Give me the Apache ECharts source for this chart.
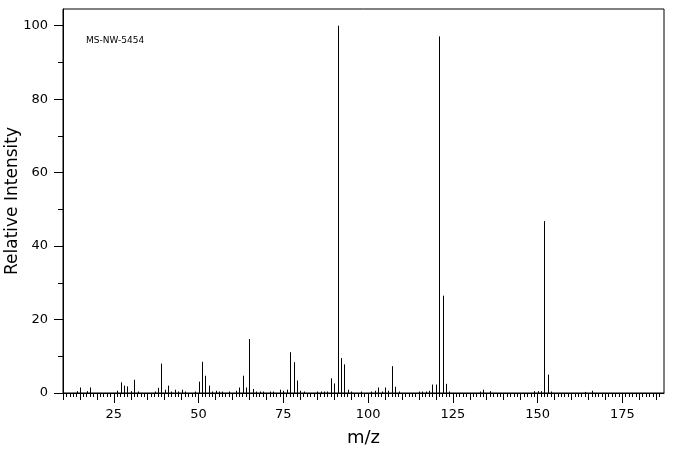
<!DOCTYPE html>
<html>
<head>
  <meta charset="utf-8">
  <title>MS-NW-5454</title>
  <style type="text/css">
    html, body { margin: 0; padding: 0; background: #fff; }
    #main { width: 676px; height: 455px; }
  </style>
</head>
<body>
<div id="main"></div>
<script type="text/javascript" src="https://cdn.jsdelivr.net/npm/echarts@6/dist/echarts.min.js"></script>
<script type="text/javascript">
  // peak positions (m/z) and relative intensities
  var mz = [14, 15, 17, 18, 26, 27, 28, 29, 30, 31, 32, 37, 38, 39, 40, 41, 42, 43, 44, 45,
            46, 49, 50, 51, 52, 53, 54, 55, 56, 57, 59, 61, 62, 63, 64, 65, 66, 67, 68, 69,
            71, 72, 74, 75, 76, 77, 78, 79, 80, 81, 85, 86, 87, 88, 89, 90, 91, 92, 93, 94,
            95, 98, 101, 102, 103, 104, 105, 106, 107, 108, 109, 115, 116, 117, 118, 119, 120, 121, 122, 123,
            124, 133, 134, 136, 149, 150, 151, 152, 153, 154, 164, 166];
  var intensity = [0.5, 1.5, 0.5, 1.5, 0.6, 2.9, 2.0, 1.8, 0.5, 3.6, 0.4, 0.4, 1.4, 8.0, 0.9, 2.0, 0.4, 0.9, 0.4, 0.9,
            0.4, 0.4, 3.1, 8.5, 4.7, 2.0, 0.4, 0.6, 0.4, 0.4, 0.4, 0.6, 1.5, 4.7, 1.5, 14.7, 1.1, 0.4, 0.4, 0.4,
            0.4, 0.4, 0.9, 0.6, 0.9, 11.1, 8.4, 3.4, 0.6, 0.4, 0.4, 0.4, 0.4, 0.4, 4.0, 2.6, 100, 9.5, 7.8, 0.9,
            0.4, 0.4, 0.4, 0.6, 1.5, 0.4, 1.5, 0.6, 7.3, 1.7, 0.4, 0.4, 0.4, 0.4, 0.6, 2.3, 2.3, 97.1, 26.5, 2.5,
            0.4, 0.4, 0.9, 0.5, 0.5, 0.5, 0.5, 46.8, 5.0, 0.4, 0.3, 0.6];

  var xMajor = [25, 50, 75, 100, 125, 150, 175];
  var yMajor = [0, 20, 40, 60, 80, 100];
  var yMinor = [10, 30, 50, 70, 90];

  var xMin = 10, xMax = 187.3, yMax = 104.55;

  var xUnit = [], xFive = [];
  for (var v = xMin; v <= 186; v++) {
    xUnit.push(v);
    if (v % 5 === 0) xFive.push(v);
  }

  var peaks = [];
  for (var i = 0; i < mz.length; i++) {
    peaks.push([mz[i], intensity[i]]);
  }

  var font = 'DejaVu Sans';
  var black = '#000';

  function xAxisBase(ticks, len, withLabels) {
    return {
      type: 'value',
      position: 'bottom',
      min: xMin,
      max: xMax,
      axisLine: { show: withLabels, lineStyle: { color: black, width: 1 } },
      axisTick: { show: true, length: len, customValues: ticks, lineStyle: { color: black, width: 1 } },
      axisLabel: withLabels ? {
        show: true, customValues: xMajor, margin: 15,
        color: black, fontFamily: font, fontSize: 13
      } : { show: false },
      splitLine: { show: false }
    };
  }

  // one crisp 1px stick per peak
  function renderStick(params, api) {
    var top = api.coord([api.value(0), api.value(1)]);
    var base = api.coord([api.value(0), 0]);
    var x = Math.round(top[0]) + 0.5;
    return {
      type: 'line',
      shape: { x1: x, y1: base[1], x2: x, y2: top[1] },
      style: { stroke: black, lineWidth: 1 }
    };
  }

  var myChart = echarts.init(document.getElementById('main'), null, { renderer: 'canvas' });

  var xMain = xAxisBase(xMajor, 10, true);
  xMain.name = 'm/z';
  xMain.nameLocation = 'middle';
  xMain.nameGap = 36;
  xMain.nameMoveOverlap = false;
  xMain.nameTextStyle = { color: black, fontFamily: font, fontSize: 18 };

  var option = {
    backgroundColor: '#fff',
    animation: false,
    grid: {
      left: 63, right: 12, top: 9, bottom: 62,
      outerBoundsMode: 'none',
      containLabel: false,
      show: true, borderColor: black, borderWidth: 1
    },
    graphic: [{
      type: 'text',
      left: 86,
      top: 36,
      style: { text: 'MS-NW-5454', fill: black, font: '9px "DejaVu Sans"' }
    }],
    xAxis: [
      xMain,
      xAxisBase(xFive, 7, false),
      xAxisBase(xUnit, 4, false)
    ],
    yAxis: [
      {
        type: 'value',
        position: 'left',
        min: 0,
        max: yMax,
        name: 'Relative Intensity',
        nameLocation: 'middle',
        nameGap: 42,
        nameMoveOverlap: false,
        nameTextStyle: { color: black, fontFamily: font, fontSize: 17 },
        axisLine: { show: true, lineStyle: { color: black, width: 1 } },
        axisTick: { show: true, length: 9, customValues: yMajor, lineStyle: { color: black } },
        axisLabel: { customValues: yMajor, margin: 15, color: black, fontFamily: font, fontSize: 13 },
        splitLine: { show: false }
      },
      {
        type: 'value',
        position: 'left',
        min: 0,
        max: yMax,
        axisLine: { show: false },
        axisTick: { show: true, length: 5, customValues: yMinor, lineStyle: { color: black } },
        axisLabel: { show: false },
        splitLine: { show: false }
      }
    ],
    series: [{
      type: 'custom',
      xAxisIndex: 0,
      yAxisIndex: 0,
      data: peaks,
      silent: true,
      renderItem: renderStick
    }]
  };

  myChart.setOption(option);
</script>
</body>
</html>
